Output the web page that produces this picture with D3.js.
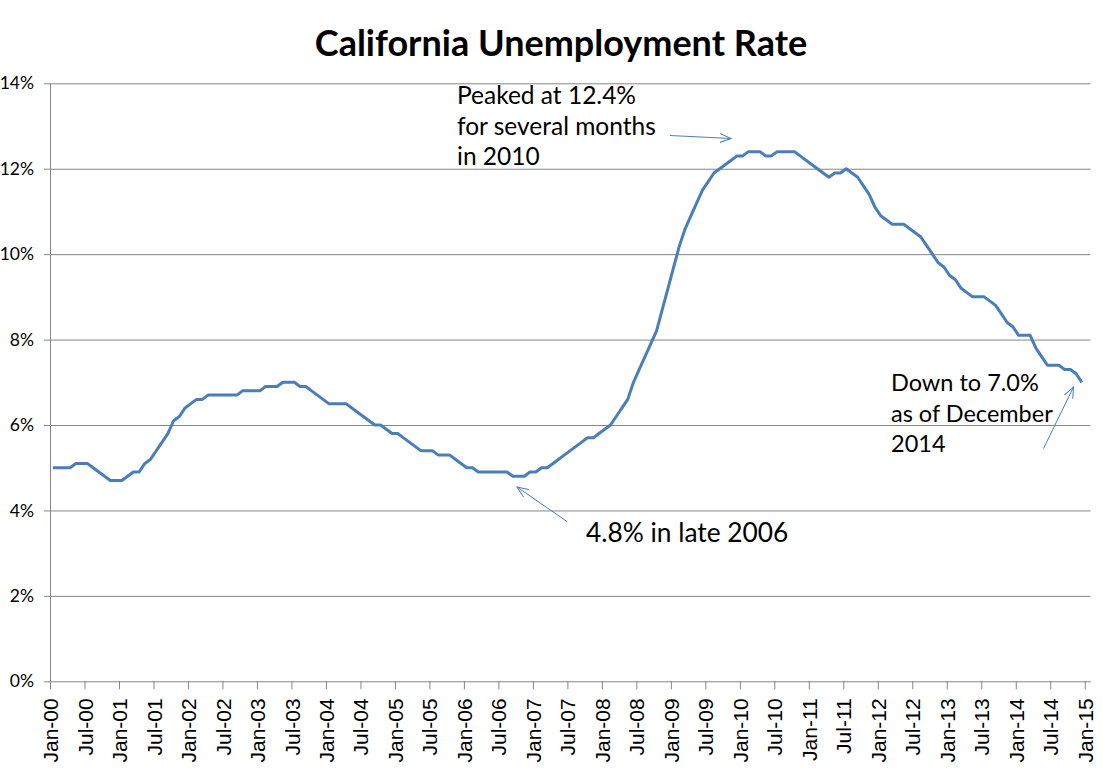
<!DOCTYPE html>
<html>
<head>
<meta charset="utf-8">
<script src="https://cdn.jsdelivr.net/npm/d3@7"></script>
<style>
  body { margin: 0; background: #fff; }
  svg { display: block; }
  .axis path, .axis line { stroke: #868686; }
  .grid line { stroke: #868686; }
  .grid path { display: none; }
</style>
</head>
<body>
<svg id="svg" width="1103" height="783"></svg>
<script>
// monthly rate (%), Jan 2000 .. Dec 2014, one row per year
let rates = [
	5.0, 5.0, 5.0, 5.0, 5.1, 5.1, 5.1, 5.0, 4.9, 4.8, 4.7, 4.7,
	4.7, 4.8, 4.9, 4.9, 5.1, 5.2, 5.4, 5.6, 5.8, 6.1, 6.2, 6.4,
	6.5, 6.6, 6.6, 6.7, 6.7, 6.7, 6.7, 6.7, 6.7, 6.8, 6.8, 6.8,
	6.8, 6.9, 6.9, 6.9, 7.0, 7.0, 7.0, 6.9, 6.9, 6.8, 6.7, 6.6,
	6.5, 6.5, 6.5, 6.5, 6.4, 6.3, 6.2, 6.1, 6.0, 6.0, 5.9, 5.8,
	5.8, 5.7, 5.6, 5.5, 5.4, 5.4, 5.4, 5.3, 5.3, 5.3, 5.2, 5.1,
	5.0, 5.0, 4.9, 4.9, 4.9, 4.9, 4.9, 4.9, 4.8, 4.8, 4.8, 4.9,
	4.9, 5.0, 5.0, 5.1, 5.2, 5.3, 5.4, 5.5, 5.6, 5.7, 5.7, 5.8,
	5.9, 6.0, 6.2, 6.4, 6.6, 7.0, 7.3, 7.6, 7.9, 8.2, 8.7, 9.2,
	9.7, 10.2, 10.6, 10.9, 11.2, 11.5, 11.7, 11.9, 12.0, 12.1, 12.2, 12.3,
	12.3, 12.4, 12.4, 12.4, 12.3, 12.3, 12.4, 12.4, 12.4, 12.4, 12.3, 12.2,
	12.1, 12.0, 11.9, 11.8, 11.9, 11.9, 12.0, 11.9, 11.8, 11.6, 11.4, 11.1,
	10.9, 10.8, 10.7, 10.7, 10.7, 10.6, 10.5, 10.4, 10.2, 10.0, 9.8, 9.7,
	9.5, 9.4, 9.2, 9.1, 9.0, 9.0, 9.0, 8.9, 8.8, 8.6, 8.4, 8.3,
	8.1, 8.1, 8.1, 7.8, 7.6, 7.4, 7.4, 7.4, 7.3, 7.3, 7.2, 7.0
];

let tickLabels = [
	"Jan-00", "Jul-00", "Jan-01", "Jul-01", "Jan-02", "Jul-02", "Jan-03", "Jul-03",
	"Jan-04", "Jul-04", "Jan-05", "Jul-05", "Jan-06", "Jul-06", "Jan-07", "Jul-07",
	"Jan-08", "Jul-08", "Jan-09", "Jul-09", "Jan-10", "Jul-10", "Jan-11", "Jul-11",
	"Jan-12", "Jul-12", "Jan-13", "Jul-13", "Jan-14", "Jul-14", "Jan-15"
];

let yTicks = [0, 2, 4, 6, 8, 10, 12, 14];

let svg = d3.select("#svg");
let padding = {top: 83.3, right: 12.5, bottom: 101.7, left: 50};
let chartArea = {
	"width": 1103 - padding.left - padding.right,
	"height": 783 - padding.top - padding.bottom
};

let lineColor = "#4a7ebb";

// one slot per month, axis runs Jan-00 .. Jan-15 (181 slots)
let xScale = d3.scaleLinear()
		.domain([0, 181])
		.range([0, chartArea.width]);

let yScale = d3.scaleLinear()
		.domain([0, 14])
		.range([chartArea.height, 0]);

let plot = svg.append("g")
		.attr("transform", "translate(" + padding.left + "," + padding.top + ")");

// horizontal gridlines
plot.append("g")
		.attr("class", "grid")
		.call(d3.axisLeft(yScale)
			.tickValues(yTicks.slice(1))
			.tickSize(-chartArea.width)
			.tickFormat(""));

let yAxis = plot.append("g")
		.attr("class", "axis")
		.call(d3.axisLeft(yScale)
			.tickValues(yTicks)
			.tickSize(6)
			.tickSizeOuter(0)
			.tickPadding(10)
			.tickFormat(d => d + "%"));
yAxis.selectAll("text")
		.style("font-family", "Lato, 'Open Sans', sans-serif")
		.style("font-size", "17.5px")
		.attr("fill", "#000");

let xAxis = plot.append("g")
		.attr("class", "axis")
		.attr("transform", "translate(0," + chartArea.height + ")")
		.call(d3.axisBottom(xScale)
			.tickValues(d3.range(0, 181, 6))
			.tickSize(8)
			.tickSizeOuter(0)
			.tickFormat((d, i) => tickLabels[i]));
xAxis.selectAll("text")
		.style("font-family", "'Liberation Sans', Arial, sans-serif")
		.style("font-size", "21px")
		.attr("fill", "#000")
		.attr("transform", "rotate(-90)")
		.attr("text-anchor", "end")
		.attr("x", -17)
		.attr("y", 0)
		.attr("dy", "0.36em");

let line = d3.line()
		.x((d, i) => xScale(i + 0.5))
		.y(d => yScale(d));

plot.append("path")
		.datum(rates)
		.attr("fill", "none")
		.attr("stroke", lineColor)
		.attr("stroke-width", 3)
		.attr("stroke-linejoin", "round")
		.attr("d", line);

// title
svg.append("text")
		.attr("x", 561)
		.attr("y", 56)
		.attr("text-anchor", "middle")
		.style("font-family", "Lato, 'Open Sans', sans-serif")
		.style("font-weight", "bold")
		.style("font-size", "36px")
		.text("California Unemployment Rate");

// arrowhead for the callouts
svg.append("defs").append("marker")
		.attr("id", "arrow")
		.attr("viewBox", "0 0 12 10")
		.attr("refX", 11)
		.attr("refY", 5)
		.attr("markerWidth", 12)
		.attr("markerHeight", 10)
		.attr("markerUnits", "userSpaceOnUse")
		.attr("orient", "auto")
	.append("path")
		.attr("d", "M0,0.5 L11,5 L0,9.5")
		.attr("fill", "none")
		.attr("stroke", lineColor)
		.attr("stroke-width", 1);

let notes = [
	{lines: ["Peaked at 12.4%", "for several months", "in 2010"], x: 457, y: 104, size: 24.5, gap: 30.5,
	 from: [670, 135.5], to: [731, 138.5]},
	{lines: ["Down to 7.0%", "as of December", "2014"], x: 891, y: 391, size: 23.5, gap: 30.5,
	 from: [1043.5, 448.5], to: [1073.5, 387]},
	{lines: ["4.8% in late 2006"], x: 586, y: 542, size: 26.3, gap: 0,
	 from: [567, 521.5], to: [517, 487]}
];

notes.forEach(function(n) {
	let t = svg.append("text")
			.style("font-family", "Lato, 'Open Sans', sans-serif")
			.style("font-size", n.size + "px")
			.attr("fill", "#000");
	n.lines.forEach(function(s, k) {
		t.append("tspan")
			.attr("x", n.x)
			.attr("y", n.y + k * n.gap)
			.text(s);
	});
	svg.append("line")
			.attr("x1", n.from[0]).attr("y1", n.from[1])
			.attr("x2", n.to[0]).attr("y2", n.to[1])
			.attr("stroke", lineColor)
			.attr("stroke-width", 1)
			.attr("marker-end", "url(#arrow)");
});
</script>
</body>
</html>
